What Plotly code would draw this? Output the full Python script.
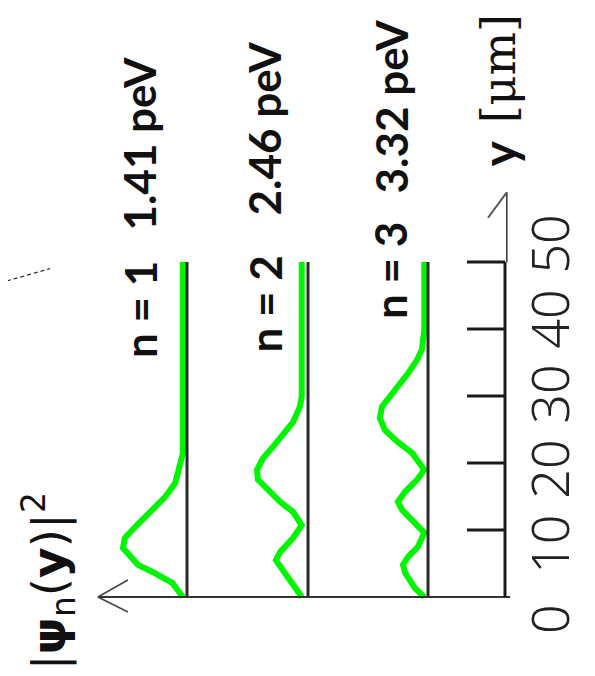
import plotly.graph_objects as go

# ---------------- data ----------------
states = [1, 2, 3]
energies_peV = ["1.41", "2.46", "3.32"]

# positions along the guide height y [um]
y_n1 = [0.0, 2.1, 3.7, 4.8, 7.3, 8.8, 10.7, 12.7, 14.9, 17.0, 19.4, 21.5, 50.0]
psi2_n1 = [0.0, 0.18, 0.50, 0.75, 1.00, 0.97, 0.77, 0.55, 0.30, 0.13, 0.05, 0.0, 0.0]

y_n2 = [0.0, 2.5, 4.5, 5.5, 6.7, 8.8, 10.7, 12.7, 14.2, 16.0, 17.5, 19.0, 20.7,
        22.4, 24.2, 26.1, 28.4, 29.9, 50.0]
psi2_n2 = [0.0, 0.195, 0.36, 0.43, 0.36, 0.145, 0.0, 0.145, 0.36, 0.58, 0.73, 0.745,
           0.645, 0.48, 0.31, 0.145, 0.03, 0.0, 0.0]

y_n3 = [0.0, 1.3, 3.6, 4.8, 6.0, 7.5, 9.6, 11.0, 13.0, 14.2, 15.7, 17.5, 19.0,
        21.5, 23.1, 24.9, 26.7, 28.4, 29.9, 31.3, 33.4, 35.4, 36.9, 39.9, 50.0]
psi2_n3 = [0.0, 0.155, 0.32, 0.355, 0.27, 0.105, 0.0, 0.155, 0.37, 0.44, 0.32, 0.12,
           0.0, 0.205, 0.44, 0.655, 0.74, 0.705, 0.57, 0.44, 0.27, 0.12, 0.04, 0.0, 0.0]

y_ticks = [0, 10, 20, 30, 40, 50]
y_tick_labels = ["0", "10", "20", "30", "40", "50"]

# ---------------- layout constants ----------------
W, H = 595, 676
PAGE_OFFSET = 8          # default body margin of the html page
PX_PER_X = 60.0          # pixels per |psi|^2 unit
PX_PER_UM = 6.7          # pixels per micrometre
X0_PX, Y0_PX = 424.3, 597.0   # screen pixel of (x=0, y=0)
X_RANGE = [(X0_PX - PAGE_OFFSET) / PX_PER_X, (X0_PX - PAGE_OFFSET - W) / PX_PER_X]
Y_RANGE = [(Y0_PX - PAGE_OFFSET - H) / PX_PER_UM, (Y0_PX - PAGE_OFFSET) / PX_PER_UM]

GREEN = "rgb(0,245,0)"
green_zero = {1: 4.022, 2: 2.043, 3: 0.0}      # horizontal offset of each state's curve
black_base = {1: 3.955, 2: 1.938, 3: -0.062}   # black baseline of each state
YAX = -1.345                                   # x position of the y-axis line
TICK_IN = -0.712

fig = go.Figure()

curves = {1: (y_n1, psi2_n1), 2: (y_n2, psi2_n2), 3: (y_n3, psi2_n3)}
for n in states:
    ys, ps = curves[n]
    fig.add_trace(go.Scatter(
        x=[green_zero[n] + p for p in ps], y=ys, mode="lines",
        line=dict(color=GREEN, width=6), showlegend=False, hoverinfo="skip"))

shapes = []
# black baselines
for n in states:
    shapes.append(dict(type="line", xref="x", yref="y", x0=black_base[n], x1=black_base[n],
                       y0=0, y1=50, line=dict(color="#2a2a2a", width=3), layer="above"))
# horizontal |psi|^2 axis with arrow pointing left
shapes.append(dict(type="line", xref="x", yref="y", x0=5.44, x1=-1.43, y0=0, y1=0,
                   line=dict(color="#333333", width=2), layer="above"))
shapes.append(dict(type="line", xref="x", yref="y", x0=5.44, x1=4.94, y0=0, y1=2.54,
                   line=dict(color="#444444", width=1.5), layer="above"))
shapes.append(dict(type="line", xref="x", yref="y", x0=5.44, x1=4.94, y0=0, y1=-2.24,
                   line=dict(color="#444444", width=1.5), layer="above"))
# vertical y axis
shapes.append(dict(type="line", xref="x", yref="y", x0=YAX, x1=YAX, y0=0, y1=50,
                   line=dict(color="#1a1a1a", width=3), layer="above"))
shapes.append(dict(type="line", xref="x", yref="y", x0=YAX - 0.03, x1=YAX - 0.03, y0=50, y1=60.4,
                   line=dict(color="#333333", width=1.5), layer="above"))
shapes.append(dict(type="line", xref="x", yref="y", x0=YAX - 0.03, x1=-1.062, y0=60.4, y1=56.6,
                   line=dict(color="#555555", width=2), layer="above"))
for t in y_ticks[1:]:
    shapes.append(dict(type="line", xref="x", yref="y", x0=TICK_IN, x1=YAX, y0=t, y1=t,
                       line=dict(color="#1a1a1a", width=3), layer="above"))
# dashed line fragment at top-left
shapes.append(dict(type="line", xref="x", yref="y", x0=7.07, x1=6.24, y0=46.9, y1=49.0,
                   line=dict(color="#222222", width=1.2, dash="4px,3px"), layer="above"))

annotations = []
# tick labels (slightly stretched spacing as in the original)
for t, lab in zip(y_ticks, y_tick_labels):
    annotations.append(dict(x=-2.078, y=-3.27 + 1.1203 * t, xref="x", yref="y", text=lab,
                            showarrow=False, textangle=-90, xanchor="center", yanchor="middle",
                            font=dict(family="Noto Sans Condensed Light, Noto Sans Condensed, Noto Sans",
                                      size=52, weight=300, color="#222222")))
# state labels
state_label_pos = {1: (4.738, 42.84), 2: (2.655, 43.66), 3: (0.572, 48.81)}
energy_label_pos = {1: (4.755, 67.67), 2: (2.672, 69.93), 3: (0.555, 73.21)}
for n, e in zip(states, energies_peV):
    sx, sy = state_label_pos[n]
    ex, ey = energy_label_pos[n]
    annotations.append(dict(x=sx, y=sy, xref="x", yref="y", text=f"<b>n = {n}</b>",
                            showarrow=False, textangle=-90, xanchor="center", yanchor="middle",
                            font=dict(family="Lato", size=44, color="#111111")))
    annotations.append(dict(x=ex, y=ey, xref="x", yref="y", text=f"<b>{e} peV</b>",
                            showarrow=False, textangle=-90, xanchor="center", yanchor="middle",
                            font=dict(family="Lato", size=44, color="#111111")))
# axis titles
annotations.append(dict(x=-1.245, y=66.19, xref="x", yref="y", text="<b>y</b>",
                        showarrow=False, textangle=-90, xanchor="center", yanchor="middle",
                        font=dict(family="Lato", size=48, color="#111111")))
annotations.append(dict(x=-1.25, y=78.8, xref="x", yref="y", text="[μm]",
                        showarrow=False, textangle=-90, xanchor="center", yanchor="middle",
                        font=dict(family="DejaVu Serif", size=46, color="#111111")))
annotations.append(dict(x=6.25, y=2.39, xref="x", yref="y",
                        text="|<b>ψ</b><sub>n</sub>(<b>y</b>)|<sup>2</sup>",
                        showarrow=False, textangle=-90, xanchor="center", yanchor="middle",
                        font=dict(family="DejaVu Sans", size=47, color="#111111")))

fig.update_layout(
    width=W, height=H, margin=dict(l=0, r=0, t=0, b=0),
    paper_bgcolor="white", plot_bgcolor="white",
    xaxis=dict(range=X_RANGE, visible=False, fixedrange=True),
    yaxis=dict(range=Y_RANGE, visible=False, fixedrange=True),
    shapes=shapes, annotations=annotations, showlegend=False,
)

fig.write_html("out.html")
